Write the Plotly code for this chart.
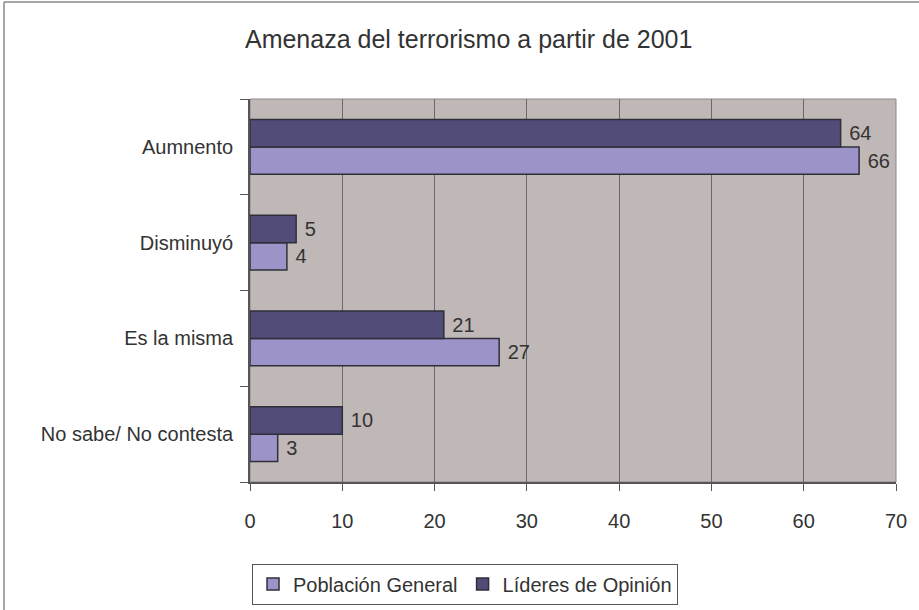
import plotly.graph_objects as go

categories = ["Aumnento", "Disminuyó", "Es la misma", "No sabe/ No contesta"]
poblacion_general = [66, 4, 27, 3]
lideres_opinion = [64, 5, 21, 10]
x_ticks = [0, 10, 20, 30, 40, 50, 60, 70]

W, H = 919, 610
ML, MR, MT, MB = 250, 23, 99, 128
PW, PH = W - ML - MR, H - MT - MB

FONT = "Liberation Sans, Arial, sans-serif"
TXT = "#333333"

fig = go.Figure()
fig.add_trace(go.Bar(
    y=categories, x=poblacion_general, name="Población General", orientation="h",
    marker=dict(color="#9C94C8", line=dict(color="#2f2f3a", width=1.5)),
    texttemplate="\u00a0%{x}", textposition="outside",
    textfont=dict(size=20, color=TXT, family=FONT), cliponaxis=False,
))
fig.add_trace(go.Bar(
    y=categories, x=lideres_opinion, name="Líderes de Opinión", orientation="h",
    marker=dict(color="#524C78", line=dict(color="#2f2f3a", width=1.5)),
    texttemplate="\u00a0%{x}", textposition="outside",
    textfont=dict(size=20, color=TXT, family=FONT), cliponaxis=False,
))

def px_x(cx):
    return (cx - ML) / PW

def px_y(cy):
    return (H - MB - cy) / PH

shapes = [
    dict(type="rect", xref="paper", yref="paper", x0=0, x1=1, y0=0, y1=1,
         line=dict(color="#8a8a8a", width=1), layer="below"),
    dict(type="line", xref="paper", yref="paper", x0=px_x(4), x1=px_x(W), y0=px_y(2), y1=px_y(2),
         line=dict(color="#8a8a8a", width=1.5)),
    dict(type="line", xref="paper", yref="paper", x0=px_x(4), x1=px_x(4), y0=px_y(2), y1=px_y(H),
         line=dict(color="#8a8a8a", width=1.5)),
]

fig.update_layout(
    width=W, height=H,
    margin=dict(l=ML, r=MR, t=MT, b=MB),
    paper_bgcolor="white",
    plot_bgcolor="#C0B8B6",
    barmode="group",
    bargap=0.43,
    bargroupgap=0,
    font=dict(family=FONT, size=20, color=TXT),
    title=dict(text="Amenaza del terrorismo a partir de 2001",
               x=0.51, xref="container", xanchor="center",
               y=1 - 39 / H, yref="container", yanchor="middle",
               font=dict(size=25, color=TXT, family=FONT)),
    xaxis=dict(range=[0, 70], tickvals=x_ticks, ticktext=[str(t) for t in x_ticks],
               showgrid=True, gridcolor="#6a6a6a", gridwidth=1,
               showline=True, linecolor="#555555", linewidth=1.5,
               ticks="outside", ticklen=7, tickcolor="#555555",
               ticklabelstandoff=13,
               tickfont=dict(size=20, color=TXT), zeroline=False, fixedrange=True),
    yaxis=dict(categoryorder="array", categoryarray=list(reversed(categories)),
               showline=True, linecolor="#555555", linewidth=1.5,
               ticks="outside", ticklen=8, tickcolor="#555555", tickson="boundaries",
               showgrid=False, tickfont=dict(size=20, color=TXT), ticksuffix="  "),
    legend=dict(orientation="h", xref="container", yref="container",
                x=0.506, xanchor="center", y=1 - 584 / H, yanchor="middle",
                bordercolor="#555555", borderwidth=1, bgcolor="white",
                font=dict(size=20, color=TXT), traceorder="normal"),
    shapes=shapes,
    showlegend=True,
)

fig.write_html("out.html",
               config={"displayModeBar": False},
               post_script="document.body.style.margin='0';document.body.style.overflow='hidden';")
